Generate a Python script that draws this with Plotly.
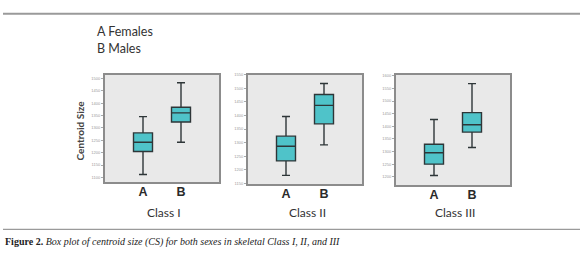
import plotly.graph_objects as go

W, H = 580, 253

# ---- data ----
classes = ["Class I", "Class II", "Class III"]
groups = ["A", "B"]
lower_whisker = [[1112, 1242], [1180, 1292], [1205, 1316]]
q1_vals       = [[1205, 1324], [1233, 1369], [1250, 1377]]
median_vals   = [[1242, 1361], [1287, 1437], [1295, 1406]]
q3_vals       = [[1280, 1384], [1324, 1477], [1329, 1454]]
upper_whisker = [[1346, 1483], [1396, 1517], [1427, 1569]]
y_ticks = [[1100, 1150, 1200, 1250, 1300, 1350, 1400, 1450, 1500],
           [1150, 1200, 1250, 1300, 1350, 1400, 1450, 1500, 1550],
           [1200, 1250, 1300, 1350, 1400, 1450, 1500, 1550, 1600]]
y_ranges = [[1080, 1516], [1147, 1550], [1166, 1605]]
legend_lines = ["A Females", "B Males"]
y_title = "Centroid Size"
caption_bold = "Figure 2."
caption_rest = "Box plot of centroid size (CS) for both sexes in skeletal Class I, II, and III"

# ---- layout (pixel boxes of the panels) ----
panels_px = [(105, 219, 73, 183), (248, 362, 73, 185), (396, 510, 73, 186)]

def px(x):
    return x / W

def py(y):
    return 1 - y / H

fig = go.Figure()
FILL = "#4fc3c9"
LINE = "#2e3638"

for i, cls in enumerate(classes):
    xa = "x" if i == 0 else f"x{i+1}"
    ya = "y" if i == 0 else f"y{i+1}"
    fig.add_trace(go.Box(
        x=groups,
        q1=q1_vals[i], median=median_vals[i], q3=q3_vals[i],
        lowerfence=lower_whisker[i], upperfence=upper_whisker[i],
        xaxis=xa, yaxis=ya,
        fillcolor=FILL, line=dict(color=LINE, width=1.4),
        width=0.5, whiskerwidth=0.42, boxpoints=False,
        showlegend=False, hoverinfo="skip",
    ))
    x0, x1, y0, y1 = panels_px[i]
    key = "" if i == 0 else str(i + 1)
    fig.layout["xaxis" + key] = dict(
        domain=[px(x0), px(x1)], anchor=ya, type="category",
        range=[-1, 2], showgrid=False, zeroline=False,
        showline=True, mirror=True, linecolor="#8c8c8c", linewidth=2,
        ticks="", ticklabelstandoff=-3,
        tickfont=dict(family="Liberation Sans", size=12.5, color="#2a2a2a"),
        tickprefix="<b>", ticksuffix="</b>",
    )
    fig.layout["yaxis" + key] = dict(
        domain=[py(y1), py(y0)], anchor=xa, range=y_ranges[i],
        tickvals=y_ticks[i], showgrid=False, zeroline=False,
        showline=True, mirror=True, linecolor="#8c8c8c", linewidth=2,
        ticks="outside", ticklen=2, tickcolor="#aaaaaa", tickwidth=1,
        tickfont=dict(family="Liberation Sans", size=4, color="#9a9a9a"),
    )
    fig.add_annotation(x=px((x0 + x1) / 2 + 2), y=py(214), xref="paper", yref="paper",
                       text=cls, showarrow=False, xanchor="center", yanchor="middle",
                       font=dict(family="Lato", size=12, color="#333333"))

# y-axis title
fig.add_annotation(x=px(80), y=py(130), xref="paper", yref="paper", text="<b>" + y_title + "</b>",
                   textangle=-90, showarrow=False, xanchor="center", yanchor="middle",
                   font=dict(family="Lato", size=10, color="#444444"))

# legend text
for j, t in enumerate(legend_lines):
    fig.add_annotation(x=px(95), y=py(29 + j * 17), xref="paper", yref="paper", text=t,
                       xanchor="left", yanchor="middle", showarrow=False,
                       font=dict(family="Lato", size=12.5, color="#333333"))

# rules
fig.add_shape(type="line", xref="paper", yref="paper", x0=px(3), x1=1, y0=py(11), y1=py(11),
              line=dict(color="#9a9a9a", width=2))
fig.add_shape(type="line", xref="paper", yref="paper", x0=px(3), x1=1, y0=py(231), y1=py(231),
              line=dict(color="#9a9a9a", width=1.2))

# caption
fig.add_annotation(x=px(3), y=py(244), xref="paper", yref="paper",
                   text="<b>" + caption_bold + "</b> <i>" + caption_rest + "</i>",
                   xanchor="left", yanchor="middle", showarrow=False,
                   font=dict(family="Liberation Serif", size=10, color="#222222"))

fig.update_layout(
    width=W, height=H, margin=dict(l=0, r=0, t=0, b=0),
    paper_bgcolor="white", plot_bgcolor="#e9e9e9",
)

fig.write_html("out.html", config={"displayModeBar": False},
               post_script="document.body.style.margin='0';document.body.style.overflow='hidden';")
